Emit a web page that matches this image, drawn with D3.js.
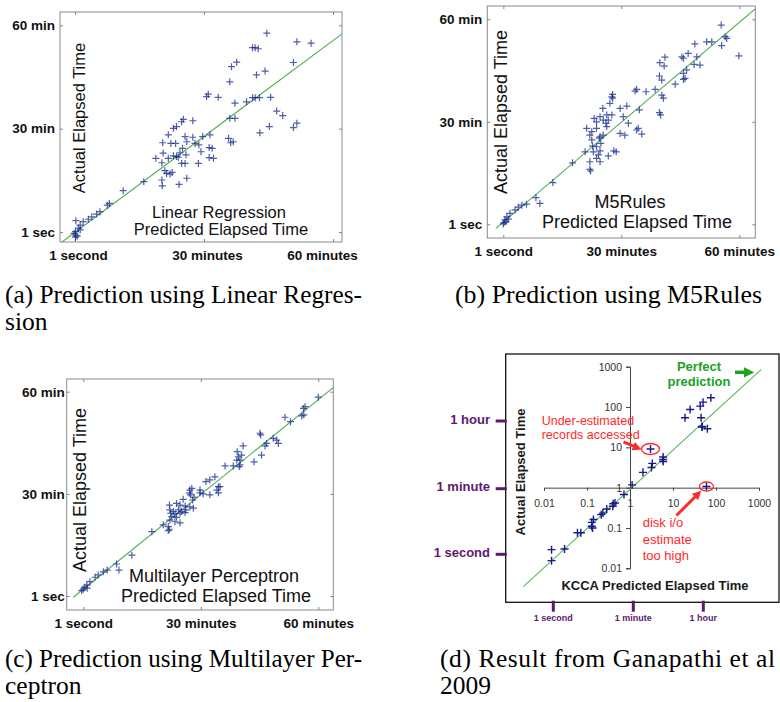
<!DOCTYPE html>
<html>
<head>
<meta charset="utf-8">
<script src="https://cdn.jsdelivr.net/npm/d3@7"></script>
<style>
  body { margin: 0; background: #fff; }
  svg text { font-family: Arial, "Liberation Sans", sans-serif; }
</style>
</head>
<body>
<svg id="main" width="780" height="702"></svg>
<script>
// [predicted, actual] in minutes
const linRegPoints = [
  [44.6,57.7],[51.6,55.2],[54.9,54.8],[41.3,53.5],[41.9,53.5],[42.6,53.2],[37.6,49.3],[36.4,48.0],
  [50.8,49.2],[44.2,46.7],[42.2,45.6],[36.0,43.6],[31.0,40.0],[30.6,39.3],[33.3,39.1],[37.2,37.4],
  [39.9,37.8],[41.3,39.0],[41.9,39.0],[42.9,39.0],[45.5,39.1],[36.0,33.0],[37.2,33.0],[46.9,35.1],
  [48.3,33.8],[45.2,30.6],[50.8,30.3],[51.6,31.6],[43.0,28.8],[35.7,27.2],[36.8,26.2],[36.2,25.9],
  [31.4,28.2],[29.7,27.7],[24.8,32.0],[25.2,32.7],[27.4,32.3],[23.6,30.6],[22.9,30.1],[25.6,27.7],
  [27.4,27.5],[21.7,28.2],[20.4,25.9],[22.3,25.7],[23.4,25.7],[26.0,26.2],[27.9,25.7],[28.8,25.3],
  [31.2,24.5],[31.9,24.3],[25.0,24.3],[20.5,22.9],[24.4,23.0],[29.3,23.3],[25.8,22.4],[18.8,21.4],
  [21.7,21.4],[22.9,22.1],[23.6,21.9],[24.0,21.7],[31.2,21.6],[32.2,21.4],[20.2,20.1],[24.8,19.9],
  [25.6,19.9],[28.7,19.9],[20.9,17.8],[21.3,17.0],[22.1,16.8],[22.6,17.3],[20.2,15.1],[20.3,13.4],
  [24.2,13.8],[26.0,15.6],[16.0,14.6],[11.2,12.0],[8.0,8.3],[7.5,7.8],[5.8,5.9],[5.0,5.2],
  [3.9,4.4],[3.1,3.7],[1.9,3.0],[1.2,2.0],[0.2,3.3],[0.8,1.1],[0.1,0.1],[0.2,-0.9],
  [0.1,-1.5],[0.5,-1.2],[1.2,0.6],[-0.2,-0.4]
];
const m5RulesPoints = [
  [55.4,58.3],[56.4,54.9],[56.8,54.4],[55.5,52.3],[48.7,52.8],[51.7,53.4],[53.0,53.4],[59.9,49.3],
  [45.4,49.0],[45.8,48.6],[47.0,50.0],[49.2,49.0],[41.1,48.9],[39.8,47.3],[40.9,46.3],[48.5,46.8],
  [50.0,46.6],[46.6,45.2],[45.8,44.2],[39.7,43.4],[40.3,42.2],[45.8,42.4],[46.2,42.7],[43.7,41.0],
  [38.6,39.5],[33.9,39.5],[33.5,39.0],[36.3,38.8],[40.3,37.8],[40.7,36.9],[27.8,38.0],[27.6,37.3],
  [27.8,36.9],[27.1,35.4],[29.7,33.9],[31.4,34.6],[34.6,33.5],[25.3,33.9],[39.7,32.7],[40.0,32.0],
  [26.3,32.0],[27.6,32.0],[24.6,31.5],[23.1,31.0],[30.5,31.5],[25.4,30.5],[26.7,30.5],[23.7,30.0],
  [26.1,29.6],[31.8,29.6],[26.3,28.6],[21.2,28.1],[23.7,28.1],[34.3,28.1],[33.9,27.6],[22.5,27.1],
  [22.0,26.1],[25.4,26.1],[29.7,26.6],[30.9,26.1],[35.2,26.4],[24.6,25.6],[24.4,25.2],[22.5,24.7],
  [24.8,23.7],[22.7,22.9],[23.7,22.7],[20.8,21.2],[22.9,21.2],[24.6,21.5],[28.1,21.5],[28.7,21.2],
  [24.2,20.3],[26.7,20.0],[23.7,19.3],[22.0,18.3],[24.6,18.3],[17.6,18.0],[22.0,16.1],[22.2,15.6],
  [12.6,12.2],[8.3,7.8],[9.3,6.1],[5.9,5.9],[4.7,5.6],[3.8,5.0],[3.0,4.2],[1.7,3.2],
  [0.9,2.2],[0.4,1.3],[0.0,0.1],[0.7,0.8],[1.3,1.5],[0.2,0.5]
];
const mlpPoints = [
  [60.0,58.4],[56.2,55.1],[56.6,55.6],[55.8,52.9],[56.3,53.2],[51.5,52.5],[52.9,51.2],[45.1,47.8],
  [45.3,47.3],[48.5,46.3],[49.4,45.8],[46.8,44.8],[46.4,44.1],[49.8,44.8],[45.5,41.4],[40.8,44.1],
  [39.3,42.4],[39.6,40.9],[40.0,39.9],[39.2,39.9],[40.4,41.4],[43.6,39.4],[36.2,38.2],[38.3,38.2],
  [39.8,38.0],[40.0,38.5],[33.6,35.0],[32.3,34.1],[31.3,33.6],[34.5,32.1],[34.9,32.1],[34.1,31.1],
  [34.5,30.3],[27.7,31.6],[27.2,31.1],[29.8,31.1],[29.8,30.3],[27.1,30.2],[27.4,29.7],[30.6,30.0],
  [32.3,29.7],[28.3,29.0],[25.5,28.4],[27.9,28.2],[22.0,26.7],[23.8,27.2],[24.7,26.7],[26.0,26.4],
  [27.2,26.2],[28.1,25.8],[22.1,25.3],[23.0,24.8],[24.3,25.3],[25.1,24.8],[26.2,25.3],[22.3,24.3],
  [23.4,24.1],[24.7,24.3],[26.0,24.5],[22.6,23.3],[23.8,23.1],[22.1,22.3],[23.4,21.8],[24.7,21.5],
  [20.4,20.9],[21.7,20.4],[22.0,19.6],[21.7,19.2],[17.5,18.9],[12.4,12.0],[8.5,9.4],[9.1,7.6],
  [6.1,7.6],[5.1,7.1],[3.8,6.2],[3.0,5.5],[1.7,4.2],[0.9,3.2],[0.4,2.6],[0.0,2.0],
  [1.0,2.3],[-0.4,1.6]
];
// KCCA result, [predicted, actual] in minutes (log axes)
const kccaPoints = [
  [0.015,0.029],[0.015,0.0155],[0.030,0.030],[0.060,0.076],[0.072,0.076],[0.129,0.138],[0.129,0.110],
  [0.135,0.100],[0.141,0.162],[0.214,0.214],[0.234,0.234],[0.288,0.295],[0.398,0.347],[0.407,0.398],
  [0.447,0.417],[0.724,0.676],[1.12,1.17],[2.0,2.4],[3.16,3.16],[3.3,4.0],[5.9,5.75],[5.9,4.47],
  [5.9,5.0],[3.0,9.1],[19,54],[25,87],[43,105],[50,132],[76,170],[45,54],[47,33],[47.5,32],
  [63,29],[60,1.07]
];
const underEstimated = [3.0, 9.1];
const diskTooHigh = [60, 1.07];

// reference lines, [predicted, actual] end points
const linRegFit = [[-3.65,-3.48],[62.3,57.7]];
const m5RulesFit = [[-1.9,-1.2],[64.2,63.2]];
const mlpFit = [[-2.55,-0.38],[63.8,61.2]];
const perfectLine = [[0.0033,0.0035],[1120,850]];

const minuteTicks = [0, 30, 60];
const xTickLabels = ['1 second', '30 minutes', '60 minutes'];
const yTickLabels = ['1 sec', '30 min', '60 min'];
const logTicks = [0.01, 0.1, 1, 10, 100, 1000];
const logTickLabels = ['0.01', '0.1', '1', '10', '100', '1000'];
const timeMarks = [1, 60, 3600]; // seconds
const timeMarkLabels = ['1 second', '1 minute', '1 hour'];

const svg = d3.select('#main');
svg.append('rect').attr('width', 780).attr('height', 702).attr('fill', '#fff');

const panels = [
  {
    key: 'a', points: linRegPoints, fit: linRegFit,
    frame: [60, 12, 342, 242], xr: [75, 333], yr: [232, 25.3],
    yPad: 5, xPad: 8, xShift: [3, 3, -11],
    yTitle: [85, 118], titles: [['Linear Regression', 219, 217.5], ['Predicted Elapsed Time', 221, 235]], fs: 16.5
  },
  {
    key: 'b', points: m5RulesPoints, fit: m5RulesFit,
    frame: [487.3, 6, 755.3, 238], xr: [503.3, 739.3], yr: [224.3, 19.3],
    yPad: 5, xPad: 8, xShift: [0, 0, 0],
    yTitle: [507, 112], titles: [['M5Rules', 630, 208], ['Predicted Elapsed Time', 637, 228]], fs: 18
  },
  {
    key: 'c', points: mlpPoints, fit: mlpFit,
    frame: [66.7, 379, 333.3, 610], xr: [83.3, 318.3], yr: [596, 391.7],
    yPad: 2, xPad: 8, xShift: [0, 0, 0],
    yTitle: [86, 490], titles: [['Multilayer Perceptron', 214, 581.5], ['Predicted Elapsed Time', 216, 601.5]], fs: 18
  }
];

const crossPath = 'M-3.5,0H3.5M0,-3.5V3.5';

function styleAxis(sel) {
  sel.select('.domain').remove();
  sel.selectAll('.tick line').attr('stroke', '#888');
  sel.selectAll('.tick text')
    .attr('fill', '#111')
    .style('font-size', '13.5px')
    .style('font-weight', 'bold');
}

panels.forEach(p => {
  const [fx0, fy0, fx1, fy1] = p.frame;
  const x = d3.scaleLinear().domain([0, 60]).range(p.xr);
  const y = d3.scaleLinear().domain([0, 60]).range(p.yr);
  const g = svg.append('g');

  svg.append('clipPath').attr('id', 'clip-' + p.key)
    .append('rect').attr('x', fx0).attr('y', fy0).attr('width', fx1 - fx0).attr('height', fy1 - fy0);

  g.append('rect')
    .attr('x', fx0).attr('y', fy0).attr('width', fx1 - fx0).attr('height', fy1 - fy0)
    .attr('fill', 'none').attr('stroke', '#8a8a8a').attr('stroke-width', 1);

  const bottom = g.append('g').attr('transform', `translate(0,${fy1})`)
    .call(d3.axisBottom(x).tickValues(minuteTicks).tickSize(-3).tickPadding(p.xPad)
      .tickFormat((d, i) => xTickLabels[i]));
  styleAxis(bottom);
  bottom.selectAll('.tick text').attr('dx', (d, i) => p.xShift[i]);

  const top = g.append('g').attr('transform', `translate(0,${fy0})`)
    .call(d3.axisTop(x).tickValues(minuteTicks).tickSize(-3).tickFormat(''));
  styleAxis(top);

  const left = g.append('g').attr('transform', `translate(${fx0},0)`)
    .call(d3.axisLeft(y).tickValues(minuteTicks).tickSize(-3).tickPadding(p.yPad)
      .tickFormat((d, i) => yTickLabels[i]));
  styleAxis(left);

  const right = g.append('g').attr('transform', `translate(${fx1},0)`)
    .call(d3.axisRight(y).tickValues(minuteTicks).tickSize(-3).tickFormat(''));
  styleAxis(right);

  const line = d3.line().x(d => x(d[0])).y(d => y(d[1]));
  g.append('path')
    .attr('d', line(p.fit))
    .attr('clip-path', `url(#clip-${p.key})`)
    .attr('fill', 'none').attr('stroke', '#4fae4f').attr('stroke-width', 1.1);

  g.selectAll('.cross')
    .data(p.points)
    .join('path')
    .attr('class', 'cross')
    .attr('d', crossPath)
    .attr('transform', d => `translate(${x(d[0])},${y(d[1])})`)
    .attr('stroke', '#142a8c')
    .attr('stroke-width', 1.2)
    .attr('opacity', 0.75);

  g.append('text')
    .text('Actual Elapsed Time')
    .attr('text-anchor', 'middle')
    .attr('transform', `translate(${p.yTitle[0]},${p.yTitle[1]}) rotate(-90)`)
    .attr('fill', '#111')
    .style('font-size', p.fs + 'px');

  p.titles.forEach(t => {
    g.append('text')
      .text(t[0])
      .attr('x', t[1]).attr('y', t[2])
      .attr('text-anchor', 'middle')
      .attr('fill', '#111')
      .style('font-size', p.fs + 'px');
  });
});

// ---- panel (d): KCCA on log axes ----
const purple = '#5c1a6e';
const red = '#ff2a2a';
const green = '#23a023';

const gd = svg.append('g');
gd.append('rect')
  .attr('x', 505.7).attr('y', 354).attr('width', 273.3).attr('height', 248.3)
  .attr('fill', 'none').attr('stroke', '#111').attr('stroke-width', 1.3);

const kx = d3.scaleLog().domain([0.01, 1000]).range([544, 759]);
const ky = d3.scaleLog().domain([0.01, 1000]).range([568.3, 366.7]);

const defs = svg.append('defs');
[['arrow-red', red], ['arrow-green', green]].forEach(([id, col]) => {
  defs.append('marker')
    .attr('id', id)
    .attr('viewBox', '0 0 10 10')
    .attr('refX', 4).attr('refY', 5)
    .attr('markerWidth', 3).attr('markerHeight', 3)
    .attr('orient', 'auto')
    .append('path').attr('d', 'M0,0L10,5L0,10z').attr('fill', col);
});

const kxAxis = gd.append('g').attr('transform', `translate(0,${ky(1)})`)
  .call(d3.axisBottom(kx).tickValues(logTicks).tickSizeOuter(0).tickSize(3).tickPadding(9)
    .tickFormat((d, i) => logTickLabels[i]));
const kyAxis = gd.append('g').attr('transform', `translate(${kx(1)},0)`)
  .call(d3.axisLeft(ky).tickValues(logTicks).tickSizeOuter(0).tickSize(4).tickPadding(4)
    .tickFormat((d, i) => logTickLabels[i]));
[kxAxis, kyAxis].forEach(a => {
  a.select('.domain').attr('stroke', '#444');
  a.selectAll('.tick line').attr('stroke', '#444');
  a.selectAll('.tick text').attr('fill', '#333').style('font-size', '10.5px');
});

gd.append('path')
  .attr('d', d3.line().x(d => kx(d[0])).y(d => ky(d[1]))(perfectLine))
  .attr('fill', 'none').attr('stroke', '#5cb85c').attr('stroke-width', 1.1);

gd.selectAll('.kcross')
  .data(kccaPoints)
  .join('path')
  .attr('class', 'kcross')
  .attr('d', 'M-4,0H4M0,-4V4')
  .attr('transform', d => `translate(${kx(d[0])},${ky(d[1])})`)
  .attr('stroke', '#1a1a8a')
  .attr('stroke-width', 1.4);

// annotations
const ue = [kx(underEstimated[0]), ky(underEstimated[1])];
gd.append('ellipse').attr('cx', ue[0]).attr('cy', ue[1]).attr('rx', 9).attr('ry', 5.5)
  .attr('fill', 'none').attr('stroke', red).attr('stroke-width', 1.3);
gd.append('line')
  .attr('x1', ue[0] - 27).attr('y1', ue[1] - 7).attr('x2', ue[0] - 14).attr('y2', ue[1] - 1.5)
  .attr('stroke', red).attr('stroke-width', 3).attr('marker-end', 'url(#arrow-red)');

const dk = [kx(diskTooHigh[0]), ky(diskTooHigh[1])];
gd.append('ellipse').attr('cx', dk[0]).attr('cy', dk[1]).attr('rx', 7).attr('ry', 4.5)
  .attr('fill', 'none').attr('stroke', red).attr('stroke-width', 1.3);
gd.append('line')
  .attr('x1', dk[0] - 30).attr('y1', dk[1] + 29).attr('x2', dk[0] - 9).attr('y2', dk[1] + 8)
  .attr('stroke', red).attr('stroke-width', 3).attr('marker-end', 'url(#arrow-red)');

[['Under-estimated', 541.7, 424.5, '12.5px'], ['records accessed', 541.7, 438.5, '12.5px'],
 ['disk i/o', 642.7, 527, '13px'], ['estimate', 642.7, 543.5, '13px'], ['too high', 642.7, 560, '13px']].forEach(t => {
  gd.append('text').text(t[0]).attr('x', t[1]).attr('y', t[2])
    .attr('fill', red).style('font-size', t[3]);
});

[['Perfect', 370.7], ['prediction', 385.7]].forEach(t => {
  gd.append('text').text(t[0]).attr('x', 699).attr('y', t[1])
    .attr('text-anchor', 'middle').attr('fill', green)
    .style('font-size', '13px').style('font-weight', 'bold');
});
gd.append('line')
  .attr('x1', 735).attr('y1', 372.3).attr('x2', 748).attr('y2', 372.3)
  .attr('stroke', green).attr('stroke-width', 3.5).attr('marker-end', 'url(#arrow-green)');

gd.append('text')
  .text('Actual Elapsed Time')
  .attr('text-anchor', 'middle')
  .attr('transform', 'translate(525,472) rotate(-90)')
  .attr('fill', '#1a1a1a')
  .style('font-size', '13px').style('font-weight', 'bold');
gd.append('text')
  .text('KCCA Predicted Elapsed Time')
  .attr('x', 655).attr('y', 590)
  .attr('text-anchor', 'middle')
  .attr('fill', '#1a1a1a')
  .style('font-size', '13px').style('font-weight', 'bold');

// outer time markers (purple)
const leftTime = d3.scaleLog().domain(timeMarks).range([554.3, 488.7, 421]);
const bottomTime = d3.scaleLog().domain(timeMarks).range([553.3, 633.3, 703.3]);

gd.selectAll('.ltick').data(timeMarks).join('line')
  .attr('class', 'ltick')
  .attr('x1', 495.7).attr('x2', 506.7)
  .attr('y1', d => leftTime(d)).attr('y2', d => leftTime(d))
  .attr('stroke', purple).attr('stroke-width', 3);
gd.selectAll('.llabel').data(timeMarks).join('text')
  .attr('class', 'llabel')
  .text((d, i) => timeMarkLabels[i])
  .attr('x', 490).attr('y', d => leftTime(d) - 2)
  .attr('dy', '0.35em')
  .attr('text-anchor', 'end').attr('fill', purple)
  .style('font-size', '13px').style('font-weight', 'bold');

gd.selectAll('.btick').data(timeMarks).join('line')
  .attr('class', 'btick')
  .attr('x1', d => bottomTime(d)).attr('x2', d => bottomTime(d))
  .attr('y1', 600.7).attr('y2', 611.7)
  .attr('stroke', purple).attr('stroke-width', 3);
gd.selectAll('.blabel').data(timeMarks).join('text')
  .attr('class', 'blabel')
  .text((d, i) => timeMarkLabels[i])
  .attr('x', d => bottomTime(d)).attr('y', 620.5)
  .attr('text-anchor', 'middle').attr('fill', purple)
  .style('font-size', '9px').style('font-weight', 'bold');

// captions
const captions = [
  ['(a) Prediction using Linear Regres-', 5, 303, 357],
  ['sion', 5, 330, null],
  ['(b) Prediction using M5Rules', 455, 303, 307],
  ['(c) Prediction using Multilayer Per-', 5, 667, 357],
  ['ceptron', 5, 694, null],
  ['(d) Result from Ganapathi et al', 440, 667, 335],
  ['2009', 440, 694, null]
];
captions.forEach(c => {
  const t = svg.append('text')
    .text(c[0])
    .attr('x', c[1]).attr('y', c[2])
    .attr('fill', '#000')
    .style('font-family', '"Liberation Serif", "Times New Roman", serif')
    .style('font-size', '25.5px');
  if (c[3]) t.attr('textLength', c[3]).attr('lengthAdjust', c[0].startsWith('(d)') ? 'spacing' : 'spacingAndGlyphs');
});
</script>
</body>
</html>
